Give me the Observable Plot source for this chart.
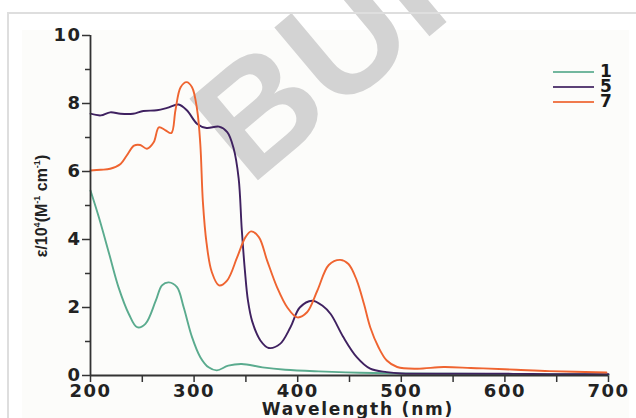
<!DOCTYPE html>
<html>
<head>
<meta charset="utf-8">
<script src="https://cdn.jsdelivr.net/npm/d3@7"></script>
<script src="https://cdn.jsdelivr.net/npm/@observablehq/plot@0.6"></script>
<style>
  html, body { margin: 0; padding: 0; background: #fff; }
  #wrap { position: relative; width: 636px; height: 418px; overflow: hidden; }
  #tint { position: absolute; left: 22px; top: 30px; width: 607px; height: 388px; background: #fcfcfa; }
  #wm { position: absolute; left: 0; top: 0; }
  #chart { position: absolute; left: 0; top: 0; }
  #frame { position: absolute; left: 7px; top: 12px; width: 640px; height: 420px;
           border-left: 2px solid #dedede; border-top: 2px solid #dedede; }
  #legend { position: absolute; left: 552px; top: 64px; font-family: "DejaVu Sans"; font-weight: bold; font-size: 17px; color: #1a1a1a; }
</style>
</head>
<body>
<div id="wrap">
  <div id="tint"></div>
  <svg id="wm" width="636" height="418">
    <text x="250" y="187" transform="rotate(-40 250 187)" font-family="Liberation Sans" font-weight="bold" font-size="155" fill="#d3d3d3">BURKE</text>
  </svg>
  <div id="chart"></div>
  <div id="frame"></div>
  <div id="legend"></div>
</div>
<script>
// Series names and colours
const seriesNames = ["1", "5", "7"];
const seriesColors = ["#5aab8e", "#3f2160", "#ef6430"];

// Compound 1
const wl1  = [200, 208, 218, 227, 237, 245, 253, 263, 269, 275.5, 283.5, 290, 298, 306, 314, 322, 333, 346, 366, 388, 420, 460, 500, 550, 600, 650, 700];
const eps1 = [5.44, 4.66, 3.58, 2.6, 1.81, 1.42, 1.52, 2.2, 2.65, 2.74, 2.6, 2.0, 1.13, 0.54, 0.24, 0.15, 0.29, 0.34, 0.24, 0.17, 0.12, 0.08, 0.06, 0.05, 0.04, 0.04, 0.03];

// Compound 5
const wl5  = [200, 210, 219, 229, 241, 251, 264, 274, 285, 293, 303, 312, 324, 332, 338, 343, 346, 349, 352, 356, 364, 372, 383, 393, 402, 414, 424, 432, 444, 457, 470, 486, 500, 550, 600, 650, 700];
const eps5 = [7.7, 7.65, 7.74, 7.7, 7.7, 7.78, 7.8, 7.87, 7.97, 7.8, 7.4, 7.28, 7.32, 7.16, 6.7, 5.8, 4.3, 3.1, 2.2, 1.6, 1.03, 0.81, 0.93, 1.42, 2.0, 2.2, 2.05, 1.8, 1.13, 0.54, 0.2, 0.1, 0.06, 0.05, 0.05, 0.04, 0.04];

// Compound 7
const wl7  = [200, 210, 219, 229, 235, 242, 248, 254.5, 261, 266, 272, 278, 282, 287, 292.7, 298, 303, 306, 308.5, 312, 317, 324, 332, 341.6, 349.6, 355, 362.5, 370.5, 380, 390, 399.5, 409, 419, 430, 441, 449, 457, 464, 470, 478, 486, 496, 515, 541, 567, 579, 611, 643, 698];
const eps7 = [6.03, 6.05, 6.08, 6.22, 6.47, 6.76, 6.78, 6.67, 6.86, 7.3, 7.22, 7.13, 7.8, 8.48, 8.63, 8.48, 7.8, 6.8, 5.1, 3.9, 3.05, 2.65, 2.8, 3.48, 4.07, 4.24, 4.07, 3.38, 2.6, 2.0, 1.71, 1.86, 2.5, 3.25, 3.4, 3.28, 2.8, 2.1, 1.42, 0.83, 0.44, 0.25, 0.2, 0.25, 0.22, 0.21, 0.17, 0.13, 0.09];

// Axis ticks
const xTicks = [200, 300, 400, 500, 600, 700];
const xMinor = [250, 350, 450, 550, 650];
const yTicks = [0, 2, 4, 6, 8, 10];
const yMinor = [1, 3, 5, 7, 9];

const xTitle = "Wavelength (nm)";

const wls = [wl1, wl5, wl7];
const epss = [eps1, eps5, eps7];
const data = [];
seriesNames.forEach((s, i) => wls[i].forEach((w, j) => data.push({series: s, wl: w, eps: epss[i][j]})));

const chart = Plot.plot({
  width: 636,
  height: 418,
  marginLeft: 90,
  marginRight: 28,
  marginTop: 35,
  marginBottom: 43,
  style: {fontFamily: "DejaVu Sans", fontWeight: "bold", fontSize: "18px", color: "#222", background: "transparent", letterSpacing: "1.5px", overflow: "visible"},
  x: {domain: [200, 700]},
  y: {domain: [0, 10]},
  color: {domain: seriesNames, range: seriesColors},
  marks: [
    Plot.axisX({ticks: xTicks, tickSize: 7, tickPadding: 2, label: null, stroke: "#333", strokeWidth: 1.5}),
    Plot.axisX({ticks: xMinor, tickSize: 7, text: null, label: null, stroke: "#333", strokeWidth: 1.5}),
    Plot.axisY({ticks: yTicks, tickSize: 8, tickPadding: 1, label: null, stroke: "#333", strokeWidth: 1.5}),
    Plot.axisY({ticks: yMinor, tickSize: 5, text: null, label: null, stroke: "#333", strokeWidth: 1.5}),
    Plot.line(data, {x: "wl", y: "eps", z: "series", stroke: "series", strokeWidth: 1.9, curve: "catmull-rom"}),
    Plot.ruleX([200], {stroke: "#333", strokeWidth: 1.8}),
    Plot.ruleY([0], {stroke: "#333", strokeWidth: 1.8})
  ]
});
document.getElementById("chart").appendChild(chart);

const svg = d3.select(chart);
svg.append("text")
  .attr("x", 358).attr("y", 415)
  .attr("text-anchor", "middle")
  .style("font-family", "DejaVu Sans").style("font-weight", "bold").style("font-size", "17px")
  .style("letter-spacing", "1.8px").attr("fill", "#222")
  .text(xTitle);

const yt = svg.append("text")
  .attr("transform", "translate(47,206) rotate(-90)")
  .attr("text-anchor", "middle")
  .style("font-family", "Liberation Sans").style("font-weight", "bold").style("font-size", "16px")
  .style("letter-spacing", "0px").attr("fill", "#222");
yt.append("tspan").text("ε/10");
yt.append("tspan").attr("font-size", "9px").attr("dy", "-7").text("4");
yt.append("tspan").attr("dy", "7").text("(M");
yt.append("tspan").attr("font-size", "9px").attr("dy", "-7").text("-1");
yt.append("tspan").attr("dy", "7").text(" cm");
yt.append("tspan").attr("font-size", "9px").attr("dy", "-7").text("-1");
yt.append("tspan").attr("dy", "7").text(")");

// Legend
const leg = d3.select("#legend");
seriesNames.forEach((s, i) => {
  const row = leg.append("div").style("display", "flex").style("align-items", "center").style("height", "15px");
  row.append("svg").attr("width", 44).attr("height", 4)
    .append("line").attr("x1", 1).attr("x2", 42).attr("y1", 2).attr("y2", 2)
    .attr("stroke", seriesColors[i]).attr("stroke-width", 1.8).attr("opacity", 0.85);
  row.append("span").style("margin-left", "4px").style("line-height", "15px").text(s);
});
</script>
</body>
</html>
